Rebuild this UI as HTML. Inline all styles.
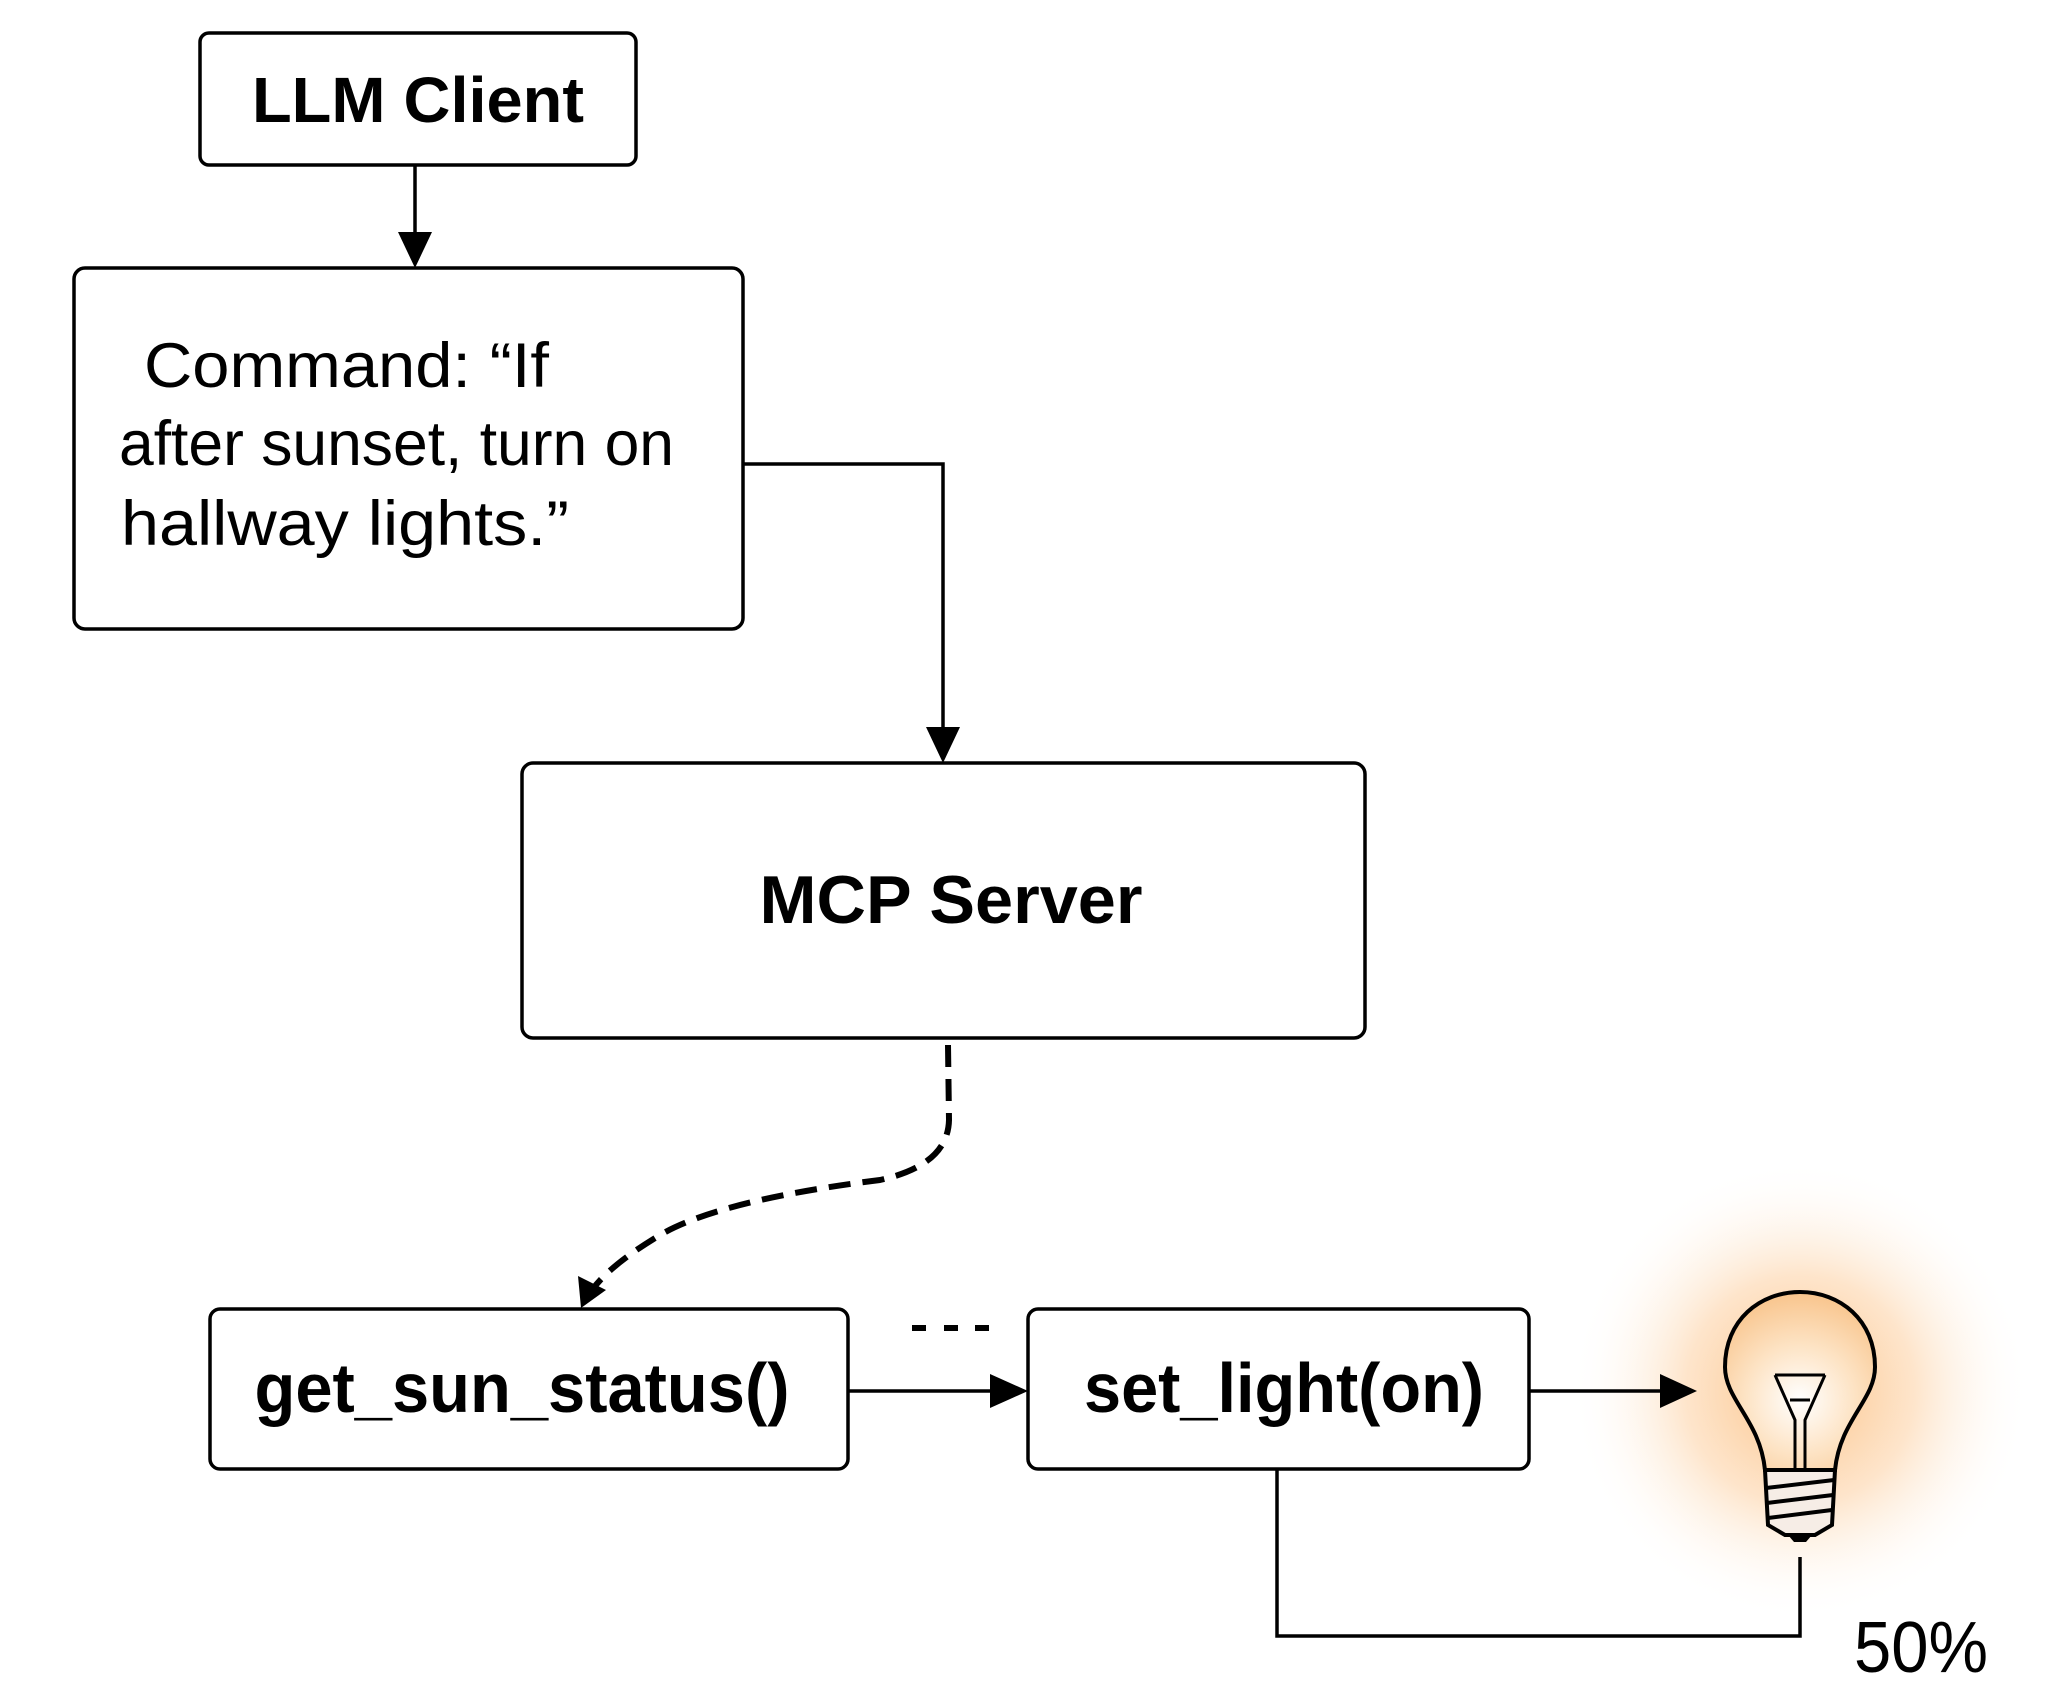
<!DOCTYPE html>
<html><head><meta charset="utf-8"><style>
html,body{margin:0;padding:0;background:#fff}
svg{display:block}
text{font-family:"Liberation Sans",sans-serif;fill:#000}
</style></head><body>
<svg width="2048" height="1696" viewBox="0 0 2048 1696" xmlns="http://www.w3.org/2000/svg">
<defs>
<radialGradient id="glow" cx="1800" cy="1390" r="230" gradientUnits="userSpaceOnUse">
<stop offset="0" stop-color="#fbb66e" stop-opacity="0.85"/>
<stop offset="0.5" stop-color="#fcc58c" stop-opacity="0.45"/>
<stop offset="1" stop-color="#fff" stop-opacity="0"/>
</radialGradient>
<radialGradient id="glass" cx="1800" cy="1400" r="110" gradientUnits="userSpaceOnUse">
<stop offset="0" stop-color="#fff"/>
<stop offset="0.5" stop-color="#fde3c4"/>
<stop offset="1" stop-color="#f8c38a"/>
</radialGradient>
</defs>
<circle cx="1800" cy="1390" r="230" fill="url(#glow)"/>
<g fill="none" stroke="#000" stroke-width="3.5">
<rect x="200" y="33" width="436" height="132" rx="9"/>
<rect x="74" y="268" width="669" height="361" rx="11"/>
<rect x="522" y="763" width="843" height="275" rx="11"/>
<rect x="210" y="1309" width="638" height="160" rx="10"/>
<rect x="1028" y="1309" width="501" height="160" rx="10"/>
<line x1="415" y1="165" x2="415" y2="240"/>
<polyline points="743,464 943,464 943,735"/>
<line x1="848" y1="1391" x2="1000" y2="1391"/>
<line x1="1529" y1="1391" x2="1665" y2="1391"/>
<polyline points="1277,1469 1277,1636 1800,1636 1800,1557"/>
<path d="M948,1045 L949,1120 Q948,1165 880,1180 Q720,1200 660,1235 Q610,1265 592,1290" stroke-dasharray="22,12" stroke-width="6"/>
</g>
<g fill="#000">
<polygon points="398,232 432,232 415,268"/>
<polygon points="926,727 960,727 943,763"/>
<polygon points="990,1374 990,1408 1028,1391"/>
<polygon points="1660,1374 1660,1408 1697,1391"/>
<polygon points="578,1276 606,1290 581,1308"/>
<rect x="912" y="1325" width="14" height="6"/>
<rect x="944" y="1325" width="14" height="6"/>
<rect x="975" y="1325" width="14" height="6"/>
</g>
<path d="M1765,1470 C1760,1420 1725,1400 1725,1367 C1725,1320 1760,1292 1800,1292 C1840,1292 1875,1320 1875,1367 C1875,1400 1840,1420 1835,1470 Z" fill="url(#glass)" stroke="#000" stroke-width="4"/>
<path d="M1775,1375 L1795,1420 L1795,1470 M1825,1375 L1805,1420 L1805,1470 M1775,1375 L1825,1375 M1790,1400 L1810,1400" fill="none" stroke="#000" stroke-width="3"/>
<path d="M1765,1470 L1835,1470 L1832,1525 L1815,1535 L1785,1535 L1768,1525 Z" fill="#f6ede6" stroke="#000" stroke-width="4"/>
<path d="M1766,1488 L1834,1480 M1767,1503 L1833,1495 M1768,1518 L1832,1510" stroke="#000" stroke-width="4"/>
<path d="M1788,1535 L1812,1535 L1806,1542 L1794,1542 Z" fill="#000"/>
<text x="418" y="122" font-size="64" font-weight="bold" text-anchor="middle" textLength="332" lengthAdjust="spacingAndGlyphs">LLM Client</text>
<text x="144" y="387" font-size="63" textLength="405" lengthAdjust="spacingAndGlyphs">Command: “If</text>
<text x="119" y="465" font-size="63" textLength="555" lengthAdjust="spacingAndGlyphs">after sunset, turn on</text>
<text x="121" y="545" font-size="63" textLength="448" lengthAdjust="spacingAndGlyphs">hallway lights.”</text>
<text x="951" y="923" font-size="68" font-weight="bold" text-anchor="middle" textLength="383" lengthAdjust="spacingAndGlyphs">MCP Server</text>
<text x="522" y="1412" font-size="70" font-weight="bold" text-anchor="middle" textLength="535" lengthAdjust="spacingAndGlyphs">get_sun_status()</text>
<text x="1284" y="1412" font-size="70" font-weight="bold" text-anchor="middle" textLength="400" lengthAdjust="spacingAndGlyphs">set_light(on)</text>
<text x="1854" y="1672" font-size="72" textLength="134" lengthAdjust="spacingAndGlyphs">50%</text>
</svg>
</body></html>
